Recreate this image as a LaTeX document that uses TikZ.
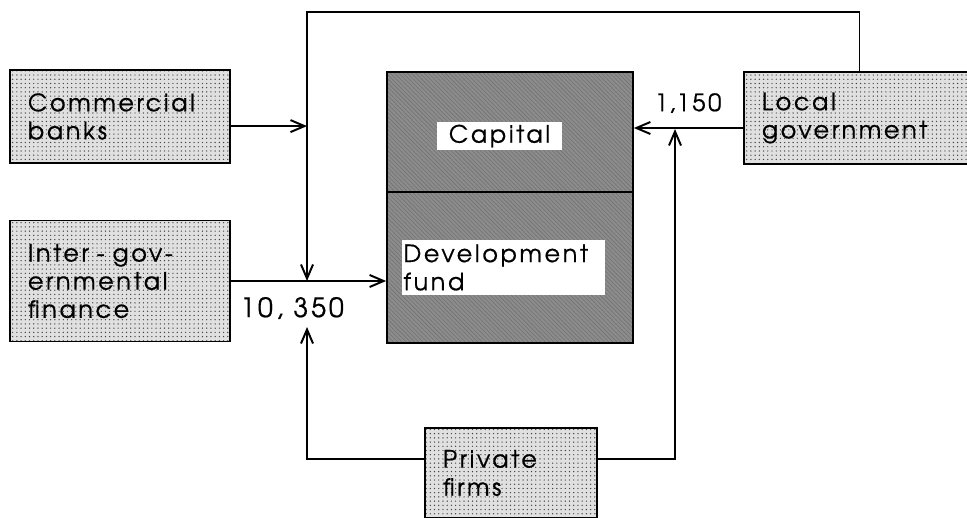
\documentclass[tikz,border=0pt]{standalone}
\usepackage{fontspec}
\setmainfont{texgyreadventor-regular.otf}[LetterSpace=11, FakeBold=0.6]
\usepackage{tikz}
\usetikzlibrary{arrows.meta, patterns}
\definecolor{stipplegray}{gray}{0.88}
\definecolor{hatchgray}{gray}{0.55}

\begin{document}
\begin{tikzpicture}[x=0.025cm, y=-0.025cm, font=\fontsize{17}{20}\selectfont,
        lightbox/.style={rectangle, draw, line width=1.2pt, preaction={fill=stipplegray}, pattern=dots, pattern color=black!75, align=left, inner xsep=0.45cm, inner ysep=0pt},
        darkbox/.style={rectangle, draw, line width=1.2pt, preaction={fill=hatchgray}, pattern=north west lines, pattern color=black!55, minimum width=6.15cm},
        tag/.style={rectangle, fill=white, inner sep=1pt},
        amount/.style={font=\fontsize{19}{22}\selectfont},
        flow/.style={draw, line width=1.4pt, -{Straight Barb[length=3.5mm, width=3mm]}}]

        \useasboundingbox (0,0) rectangle (967,518);
        \clip (0,0) rectangle (967,518);

        \node [lightbox, text width=4.6cm, minimum height=2.325cm] (comm) at (120,116.5) {Commercial\\banks};
        \node [lightbox, text width=4.6cm, minimum height=3.025cm] (inter) at (120,281) {Inter - gov-\\ernmental\\finance};
        \node [darkbox, minimum height=3cm] (capital) at (510,132) {};
        \node [darkbox, minimum height=3.775cm] (fund) at (510,267.5) {};
        \node [tag, minimum width=3.125cm, minimum height=0.7cm] (capitaltag) at (499.5,136) {Capital};
        \node [tag, text width=5cm, align=left, minimum height=1.375cm] (fundtag) at (503.5,267.5) {Development\\fund};
        \node [lightbox, text width=4.875cm, minimum height=2.3cm] (local) at (859.5,118) {Local\\government};
        \node [lightbox, text width=3.4cm, minimum height=2.25cm] (private) at (511,473) {Private\\firms};

        \node [amount] (flowsum) at (292,308) {10, 350};
        \node (localsum) at (688,103) {1,150};

        \coordinate (trunk) at (307,281);
        \coordinate (bend) at (307,12);
        \coordinate (tipL) at (307,327);
        \coordinate (tipR) at (675,129);
        \coordinate (bankout) at ([yshift=-0.24cm]comm.east);
        \coordinate (localout) at ([yshift=-0.25cm]local.west);
        \coordinate (firmsW) at ([yshift=0.35cm]private.west);
        \coordinate (firmsE) at ([yshift=0.35cm]private.east);

        \path [flow] (local.north) |- (bend) -- (trunk);
        \path [flow] (bankout) -- (bankout -| trunk);
        \path [flow] (inter.east) -- (inter.east -| fund.west);
        \path [flow] (localout) -- (localout -| capital.east);
        \path [flow] (firmsW) -| (tipL);
        \path [flow] (firmsE) -| (tipR);
    \end{tikzpicture}
\end{document}
